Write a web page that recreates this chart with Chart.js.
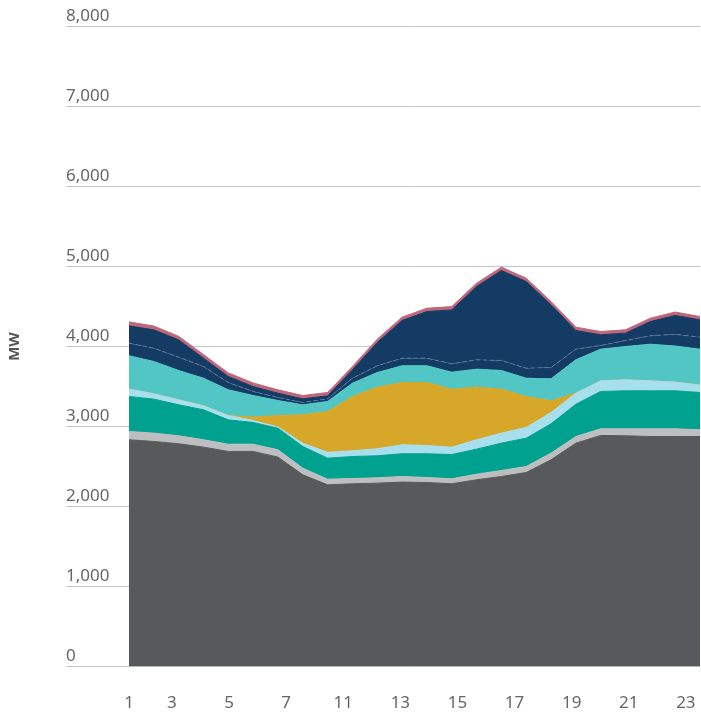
<!DOCTYPE html>
<html>
<head>
<meta charset="utf-8">
<script src="https://cdn.jsdelivr.net/npm/chart.js@4.4.0/dist/chart.umd.min.js"></script>
<style>
  html, body { margin: 0; padding: 0; background: #fff; }
  #wrap { position: relative; width: 701px; height: 717px; }
</style>
</head>
<body>
<div id="wrap"><canvas id="genChart"></canvas></div>
<script>
// hourly generation mix, MW
const hours = ['1','2','3','4','5','6','7','8','9','10','11','12','13','14','15','16','17','18','19','20','21','22','23','24'];
const xTickLabels = ['1','3','5','7','11','13','15','17','19','21','23'];

const darkGray  = [2834, 2813, 2784, 2742, 2688, 2688, 2617, 2396, 2271, 2284, 2292, 2305, 2300, 2284, 2334, 2375, 2425, 2584, 2792, 2888, 2884, 2875, 2875, 2875];
const lightGray = [104, 104, 100, 92, 91, 91, 92, 83, 71, 66, 67, 70, 63, 62, 70, 75, 75, 83, 83, 83, 87, 96, 96, 84];
const teal      = [437, 425, 387, 375, 304, 271, 270, 271, 262, 275, 275, 284, 296, 304, 313, 342, 354, 367, 404, 467, 475, 475, 475, 466];
const lightBlue = [92, 67, 63, 50, 55, 25, 15, 40, 75, 71, 87, 112, 104, 91, 117, 125, 134, 141, 138, 133, 138, 125, 110, 92];
const gold      = [0, 0, 0, 0, 0, 42, 144, 356, 509, 679, 771, 779, 787, 725, 658, 550, 387, 146, 0, 0, 0, 0, 0, 0];
const turquoise = [417, 404, 366, 345, 320, 271, 187, 125, 125, 167, 183, 209, 209, 213, 225, 233, 229, 275, 417, 396, 416, 458, 450, 450];
const navyLow   = [158, 166, 167, 146, 92, 50, 38, 29, 33, 62, 84, 95, 95, 104, 117, 125, 125, 142, 133, 46, 75, 105, 146, 150];
const navyHigh  = [216, 229, 216, 104, 75, 62, 53, 46, 37, 104, 291, 471, 583, 674, 916, 1125, 1083, 783, 233, 133, 92, 178, 237, 216];
const pink      = [50, 48, 45, 45, 45, 45, 42, 42, 42, 42, 42, 42, 42, 42, 42, 42, 42, 42, 42, 42, 42, 42, 42, 42];

const textColor = '#666';
const gridColor = '#c4c4c4';
const font = { family: '"Noto Sans", sans-serif', size: 17 };

function area(data, color, i, extra) {
    return Object.assign({
        data,
        backgroundColor: color,
        borderColor: color,
        borderWidth: 1,
        pointRadius: 0,
        tension: 0,
        fill: i === 0 ? 'origin' : '-1',
    }, extra || {});
}

// --- axis title, drawn beside the value labels ---
const mwTitle = {
    id: 'mwTitle',
    afterDraw(chart) {
        const { ctx, chartArea } = chart;
        ctx.save();
        ctx.translate(15, (chartArea.top + chartArea.bottom) / 2);
        ctx.rotate(-Math.PI / 2);
        ctx.font = 'bold 15px "Noto Sans", sans-serif';
        ctx.fillStyle = '#555';
        ctx.textAlign = 'center';
        ctx.textBaseline = 'middle';
        ctx.fillText('MW', 0, 0);
        ctx.restore();
    }
};

new Chart(document.getElementById('genChart'), {
    type: 'line',
    data: {
        labels: hours,
        datasets: [
            area(darkGray, '#58595b', 0),
            area(lightGray, '#bdbec0', 1),
            area(teal, '#00a18e', 2),
            area(lightBlue, '#a8dfec', 3),
            area(gold, '#d7a72a', 4),
            area(turquoise, '#52c5c5', 5),
            area(navyLow, '#133b63', 6, { borderColor: '#5f7b99', borderDash: [4, 3] }),
            area(navyHigh, '#133b63', 7),
            area(pink, '#c0667a', 8),
        ]
    },
    options: {
        responsive: true,
        maintainAspectRatio: false,
        animation: false,
        layout: { padding: { left: 66, right: 1, top: 26.5, bottom: 0 } },
        plugins: { legend: { display: false }, tooltip: { enabled: false } },
        scales: {
            x: { display: false },
            x2: {
                type: 'linear',
                position: 'bottom',
                min: 0,
                max: 23,
                grid: { display: false, drawTicks: false },
                border: { display: false },
                afterBuildTicks: scale => {
                    scale.ticks = xTickLabels.map((_, k) => ({ value: Math.max(0, k * 2.3 - 0.57) }));
                },
                afterFit: scale => {
                    scale.height = 50.5;
                    scale.paddingLeft = 0;
                    scale.paddingRight = 0;
                },
                ticks: {
                    autoSkip: false,
                    maxRotation: 0,
                    padding: 26,
                    color: textColor,
                    font,
                    callback: (v, i) => xTickLabels[i]
                }
            },
            y: {
                stacked: true,
                min: 0,
                max: 8000,
                afterFit: scale => {
                    scale.width = 63;
                    scale.paddingTop = 0;
                    scale.paddingBottom = 0;
                },
                grid: { color: gridColor, tickLength: 63, drawTicks: true },
                border: { display: false },
                ticks: {
                    stepSize: 1000,
                    crossAlign: 'far',
                    labelOffset: -10,
                    padding: 0,
                    color: textColor,
                    font,
                    callback: v => v.toLocaleString('en-US')
                }
            }
        }
    },
    plugins: [mwTitle]
});
</script>
</body>
</html>
